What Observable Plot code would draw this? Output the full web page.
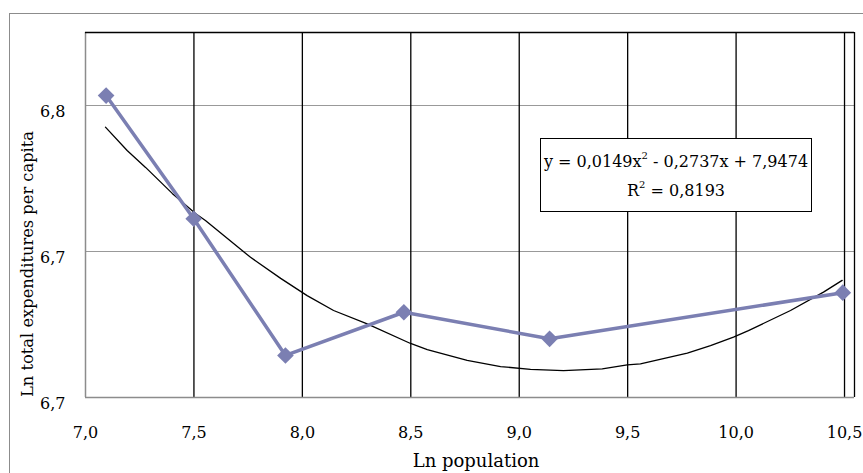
<!DOCTYPE html>
<html>
<head>
<meta charset="utf-8">
<script src="https://cdn.jsdelivr.net/npm/d3@7"></script>
<script src="https://cdn.jsdelivr.net/npm/@observablehq/plot@0.6"></script>
<style>
  html, body { margin: 0; padding: 0; background: #fff; width: 863px; height: 473px; overflow: hidden; }
  #wrap { position: relative; width: 863px; height: 473px; }
  #border { position: absolute; left: 9px; top: 13px; width: 900px; height: 500px; border: 1px solid #8c8c8c; box-sizing: border-box; }
  #chart { position: absolute; left: 0; top: 0; }
  #eq { position: absolute; left: 540px; top: 138px; width: 272px; height: 74px; box-sizing: border-box;
        border: 1px solid #000; background: #fff; font-family: "DejaVu Serif", serif; font-size: 16px;
        text-align: center; line-height: 29px; padding-top: 8px; color: #000; white-space: nowrap; }
  #eq sup { font-size: 10px; line-height: 0; position: relative; top: -2px; vertical-align: super; }
</style>
</head>
<body>
<div id="wrap">
  <div id="border"></div>
  <div id="chart"></div>
  <div id="eq">y = 0,0149x<sup>2</sup> - 0,2737x + 7,9474<br>R<sup>2</sup> = 0,8193</div>
</div>
<script>
// Observed data (Ln population vs Ln total expenditures per capita)
const lnPopulation = [7.095, 7.499, 7.922, 8.468, 9.140, 10.492];
const lnExpenditure = [6.7534, 6.7112, 6.6644, 6.6792, 6.6701, 6.6859];

// Polynomial trend line
const trendX = [7.092, 7.192, 7.277, 7.400, 7.507, 7.553, 7.761, 7.900, 8.022, 8.144, 8.299, 8.499, 8.576, 8.760, 8.914, 9.052, 9.204, 9.383, 9.498, 9.559, 9.775, 9.882, 9.988, 10.057, 10.251, 10.403, 10.489];
const trendY = [6.7426, 6.7346, 6.7288, 6.7199, 6.7130, 6.7106, 6.6980, 6.6908, 6.6849, 6.6798, 6.6752, 6.6685, 6.6664, 6.6627, 6.6606, 6.6596, 6.6592, 6.6598, 6.6612, 6.6615, 6.6652, 6.6678, 6.6707, 6.6729, 6.6798, 6.6861, 6.6901];

const xTicks = [7.0, 7.5, 8.0, 8.5, 9.0, 9.5, 10.0, 10.5];
const yTicks = [6.65, 6.70, 6.75];
const xDomain = [7.0, 10.546];
const yDomain = [6.65, 6.775];
const xTitle = "Ln population";
const yTitle = "Ln total expenditures per capita";

const points = lnPopulation.map((x, i) => ({x, y: lnExpenditure[i]}));
const trend = trendX.map((x, i) => ({x, y: trendY[i]}));
const fmt = d => d.toFixed(1).replace(".", ",");

const font = "DejaVu Serif";
const chart = Plot.plot({
  width: 863,
  height: 473,
  marginLeft: 85,
  marginRight: 9,
  marginTop: 32,
  marginBottom: 76,
  style: { fontFamily: font, fontSize: "16px", background: "none", color: "#000", overflow: "visible" },
  x: { domain: xDomain },
  y: { domain: yDomain },
  marks: [
    // horizontal gridlines (grey)
    Plot.ruleY(yTicks.slice(1), { stroke: "#999", strokeWidth: 1 }),
    // vertical gridlines (black)
    Plot.ruleX(xTicks.slice(1), { stroke: "#000", strokeWidth: 1.3 }),
    // frame
    Plot.ruleX([xDomain[0]], { stroke: "#8c8c8c", strokeWidth: 1.5 }),
    Plot.ruleX([xDomain[1]], { stroke: "#000", strokeWidth: 1.3 }),
    Plot.ruleY([yDomain[0]], { stroke: "#8c8c8c", strokeWidth: 1.5 }),
    Plot.ruleY([yDomain[1]], { stroke: "#000", strokeWidth: 1.3 }),
    // trend line
    Plot.line(trend, { x: "x", y: "y", stroke: "#000", strokeWidth: 1.3 }),
    // data series
    Plot.line(points, { x: "x", y: "y", stroke: "#7b7fb2", strokeWidth: 3.5 }),
    Plot.dot(points, { x: "x", y: "y", symbol: "diamond2", r: 7.5, fill: "#7b7fb2", stroke: "none" }),
    Plot.axisX(xTicks, { tickSize: 0, tickPadding: 29, tickFormat: fmt, fontSize: 16, label: null }),
    Plot.axisY(yTicks, { tickSize: 0, tickPadding: 20, tickFormat: fmt, fontSize: 16, dy: 6, label: null }),
    // axis titles
    Plot.text([xTitle], { text: d => d, frameAnchor: "bottom", textAnchor: "middle", lineAnchor: "middle",
      dx: 6, dy: 64, fontSize: 18 }),
    Plot.text([yTitle], { text: d => d, frameAnchor: "left", textAnchor: "middle", lineAnchor: "middle",
      rotate: -90, dx: -58, dy: 49, fontSize: 16.3 })
  ]
});
document.getElementById("chart").appendChild(chart);
</script>
</body>
</html>
